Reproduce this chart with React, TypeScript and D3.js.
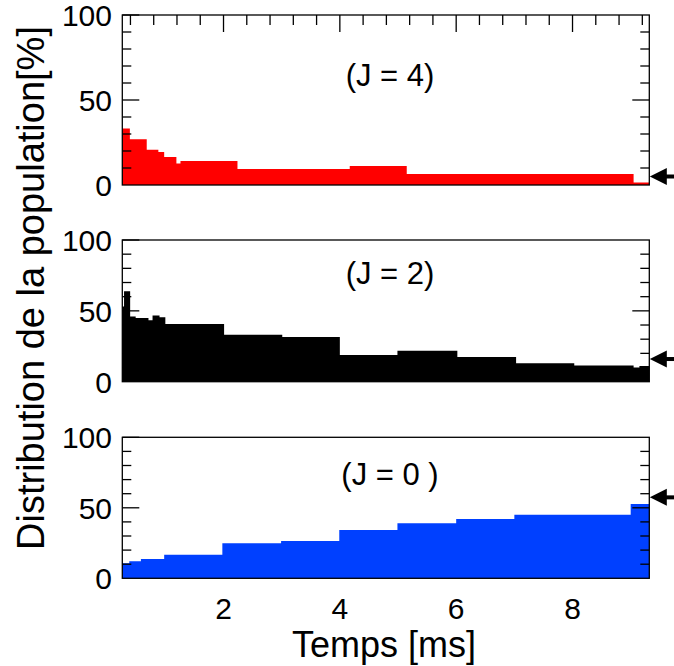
import React from "react";
import * as d3 from "d3";

// ---- data ----
const xTickLabels = [2, 4, 6, 8];
const yTickLabels = [0, 50, 100];

const j4Edges = [0.26, 0.39, 0.68, 0.88, 0.98, 1.19, 1.26, 2.24, 4.17, 5.15, 9.05, 9.32];
const j4Values = [33.3, 26.9, 20.8, 19.4, 16.5, 12.7, 14.1, 9.4, 11.2, 6.5, 1.4];

const j2Edges = [0.26, 0.29, 0.395, 0.49, 0.71, 0.78, 0.9, 1.0, 2.01, 3.01, 4.0, 4.99, 6.02, 7.03, 8.03, 9.05, 9.15, 9.32];
const j2Values = [53, 63.8, 46, 45, 43.3, 46.8, 45.4, 40.7, 33.1, 31.5, 18.9, 21.8, 17.5, 13, 11.4, 10, 11];

const j0Edges = [0.26, 0.38, 0.58, 0.98, 1.98, 2.99, 3.99, 4.99, 6.0, 7.0, 9.0, 9.32];
const j0Values = [10.6, 12.1, 13.7, 16.7, 24.8, 26.5, 34.3, 39, 42, 45.1, 52.7];

const panelLabels = ["(J = 4)", "(J = 2)", "(J = 0 )"];
const panelColors = ["#ff0000", "#000000", "#0040ff"];
const arrowValues = [5, 16, 57.4];

const FONT = "'Liberation Sans', Arial, Helvetica, sans-serif";

const xScale = d3.scaleLinear().domain([0.26, 9.32]).range([122.3, 649.3]);

const panels = [
  { edges: j4Edges, values: j4Values, top: 15, bottom: 185, topTicks: true, labelY: 86 },
  { edges: j2Edges, values: j2Values, top: 240, bottom: 381.7, topTicks: false, labelY: 284 },
  { edges: j0Edges, values: j0Values, top: 437.3, bottom: 578.3, topTicks: false, labelY: 485 },
];

function Panel({ p, i }: { p: any; i: number }) {
  const y = d3.scaleLinear().domain([0, 100]).range([p.bottom, p.top]);
  const pts: [number, number][] = p.edges.map((e: number, k: number) => [
    e,
    k < p.values.length ? p.values[k] : p.values[p.values.length - 1],
  ]);
  const area = d3
    .area<[number, number]>()
    .x((d) => xScale(d[0]))
    .y0(y(0))
    .y1((d) => y(d[1]))
    .curve(d3.curveStepAfter);
  const [x0, x1] = xScale.range();
  const yTicks = d3.range(10, 100, 10);
  const xMinor = d3.range(0.4, 9.3, 0.4).filter((v) => Math.abs(v / 2 - Math.round(v / 2)) > 0.01);
  const ay = y(arrowValues[i]);
  return (
    <g>
      <path d={area(pts) || ""} fill={panelColors[i]} />
      {yTicks.map((t) => {
        const len = t === 50 ? 17 : 9;
        return (
          <g key={t}>
            <line x1={x0} x2={x0 + len} y1={y(t)} y2={y(t)} stroke="#000" strokeWidth={1.3} />
            <line x1={x1} x2={x1 - len} y1={y(t)} y2={y(t)} stroke="#000" strokeWidth={1.3} />
          </g>
        );
      })}
      <line x1={x0} x2={x0 + 17} y1={y(100)} y2={y(100)} stroke="#000" strokeWidth={1.3} />
      {p.topTicks &&
        xTickLabels.map((t) => (
          <line key={"M" + t} x1={xScale(t)} x2={xScale(t)} y1={p.top} y2={p.top + 17} stroke="#000" strokeWidth={1.3} />
        ))}
      {p.topTicks &&
        xMinor.map((t) => (
          <line key={"m" + t} x1={xScale(t)} x2={xScale(t)} y1={p.top} y2={p.top + 10} stroke="#000" strokeWidth={1.3} />
        ))}
      <rect x={x0} y={p.top} width={x1 - x0} height={p.bottom - p.top} fill="none" stroke="#000" strokeWidth={1.3} />
      {yTickLabels.map((t) => (
        <text key={t} x={112} y={y(t) + 11} textAnchor="end" fontSize={30} fontFamily={FONT} fill="#000">
          {t}
        </text>
      ))}
      <text x={390} y={p.labelY} textAnchor="middle" fontSize={31} fontFamily={FONT} fill="#000">
        {panelLabels[i]}
      </text>
      <g>
        <path
          d={`M ${x1 + 0.5} ${ay} L ${x1 + 17.5} ${ay - 8.5} L ${x1 + 17.5} ${ay + 8.5} Z`}
          fill="#000"
        />
        <rect x={x1 + 15} y={ay - 2} width={674 - x1 - 15} height={4} fill="#000" />
      </g>
    </g>
  );
}

export default function App() {
  return (
    <svg width={674} height={666} style={{ position: "absolute", left: 0, top: 0, background: "#fff" }}>
      <rect width={674} height={666} fill="#fff" />
      {panels.map((p, i) => (
        <Panel key={i} p={p} i={i} />
      ))}
      {xTickLabels.map((t) => (
        <text key={t} x={xScale(t)} y={619} textAnchor="middle" fontSize={30} fontFamily={FONT} fill="#000">
          {t}
        </text>
      ))}
      <text x={384} y={657} textAnchor="middle" fontSize={36} fontFamily={FONT} fill="#000">
        Temps [ms]
      </text>
      <text
        transform="translate(44,288) rotate(-90)"
        textAnchor="middle"
        fontSize={38}
        fontFamily={FONT}
        fill="#000"
      >
        Distribution de la population[%]
      </text>
    </svg>
  );
}
